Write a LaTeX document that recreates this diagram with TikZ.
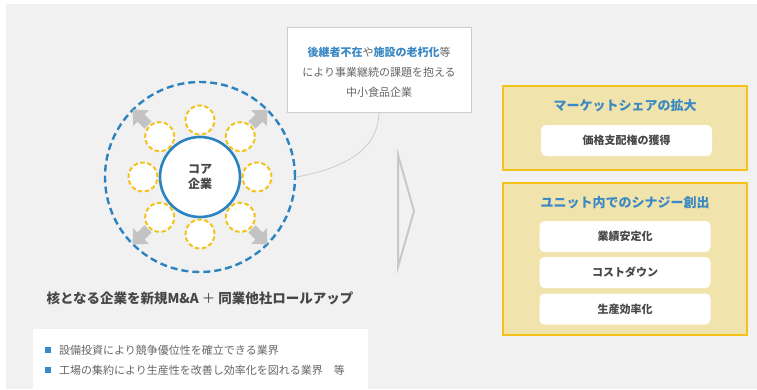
\documentclass[tikz,border=0pt]{standalone}
\usepackage{fontspec}
\usetikzlibrary{calc}
\setmainfont{Noto Sans CJK JP}
\definecolor{bgc}{HTML}{F1F1F1}
\definecolor{blu}{HTML}{2B83C0}
\definecolor{tblu}{HTML}{3A88C4}
\definecolor{yel}{HTML}{F4C21A}
\definecolor{panelc}{HTML}{F1E3AC}
\definecolor{arrc}{HTML}{C3C3C3}
\definecolor{chev}{HTML}{C8C8C8}
\definecolor{cbord}{HTML}{CCCCCC}
\definecolor{tgray}{HTML}{666666}
\definecolor{tdark}{HTML}{474747}
\tikzset{
  fs/.style={font=\fontsize{#1}{#1}\selectfont},
  smallc/.style={circle, draw=yel, fill=white, line width=2pt, dash pattern=on 4.5pt off 2.5pt, minimum size=29pt, inner sep=0pt},
  panel/.style={draw=yel, fill=panelc, line width=2.5pt},
  ibox/.style={fill=white, rounded corners=5pt, minimum width=171pt, minimum height=31pt, inner sep=0pt, text=tdark, font=\fontsize{11}{11}\selectfont\bfseries},
  ptitle/.style={text=tblu, font=\fontsize{13}{13}\selectfont\bfseries},
  gar/.style={fill=arrc},
}
\begin{document}
\begin{tikzpicture}[x=1pt,y=-1pt]
\useasboundingbox (0,0) rectangle (757,389);
\fill[bgc] (6,4) rectangle (757,389);

% outer dashed circle
\node[circle, draw=blu, line width=2.4pt, dash pattern=on 7pt off 4pt, minimum size=190pt, inner sep=0pt] (outer) at (200,177) {};

% gray arrows
\foreach \p/\a in {(141,118)/135,(259,118)/45,(141,236)/225,(259,236)/315}{
  \fill[gar, shift={\p}, rotate=\a] (-10,-5) -- (0,-5) -- (0,-11) -- (12,0) -- (0,11) -- (0,5) -- (-10,5) -- cycle;
}

% small circles
\foreach \i in {0,...,7}{
  \node[smallc] (s\i) at ($(200,177)+(\i*45:57)$) {};
}

% core
\node[circle, draw=blu, fill=white, line width=2.6pt, minimum size=80pt, inner sep=0pt, align=center, text=tdark, font=\fontsize{12}{15}\selectfont\bfseries] (core) at (200,177) {コア\\企業};

% callout
\node[draw=cbord, fill=white, line width=0.9pt, minimum width=184pt, minimum height=85pt, inner sep=0pt] (cbox) at (379,69.5) {};
\node[align=center, text=tgray, font=\fontsize{11}{20}\selectfont] (ctext) at (379,72) {{\bfseries\color{tblu}後継者不在}や{\bfseries\color{tblu}施設の老朽化}等\\により事業継続の課題を抱える\\中小食品企業};
\draw[cbord, line width=0.8pt] (cbox.south) .. controls (378,150) and (345,168) .. (outer.east);

% chevron
\draw[chev, line width=2pt, line join=miter] (398,155) -- (414,211) -- (398,267) -- cycle;

% right panels
\node[panel, minimum width=244pt, minimum height=84pt, inner sep=0pt] (p1) at (625,128) {};
\node[ptitle] (p1t) at (625,106) {マーケットシェアの拡大};
\node[ibox] (p1a) at (626.5,140.5) {価格支配権の獲得};

\node[panel, minimum width=244pt, minimum height=152pt, inner sep=0pt] (p2) at (625,259) {};
\node[ptitle] (p2t) at (625,203) {ユニット内でのシナジー創出};
\node[ibox] (p2a) at (625,236.5) {業績安定化};
\node[ibox] (p2b) at (625,272.5) {コストダウン};
\node[ibox] (p2c) at (625,309) {生産効率化};

% bottom label
\node[text=tdark, font=\fontsize{13.5}{13.5}\selectfont\bfseries] (lbl) at (200,298) {核となる企業を新規M\&A {\mdseries ＋} 同業他社ロールアップ};

% bullet box
\fill[white] (33,329) rectangle (368,389);
\node[fill=tblu, minimum size=6pt, inner sep=0pt] (b1) at (48,350) {};
\node[fill=tblu, minimum size=6pt, inner sep=0pt] (b2) at (48,370) {};
\node[anchor=west, text=tgray, fs=11, inner sep=0pt] (t1) at (59,350) {設備投資により競争優位性を確立できる業界};
\node[anchor=west, text=tgray, fs=11, inner sep=0pt] (t2) at (59,370) {工場の集約により生産性を改善し効率化を図れる業界　等};
\end{tikzpicture}
\end{document}
